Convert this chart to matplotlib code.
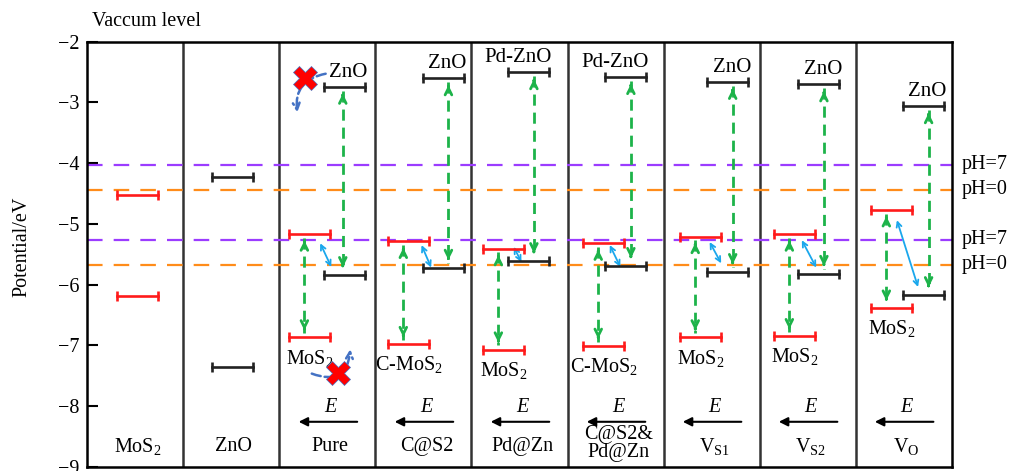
import matplotlib
matplotlib.use("Agg")
import matplotlib.pyplot as plt

plt.rcParams['font.family'] = ['Liberation Serif', 'DejaVu Serif']
plt.rcParams['mathtext.fontset'] = 'custom'
plt.rcParams['mathtext.rm'] = 'Liberation Serif'
plt.rcParams['mathtext.it'] = 'Liberation Serif:italic'

# panel names (bottom row)
panels = ['MoS$_\\mathrm{2}$', 'ZnO', 'Pure', 'C@S2', 'Pd@Zn', 'C@S2&\nPd@Zn',
          '$\\mathrm{V_{S1}}$', '$\\mathrm{V_{S2}}$', '$\\mathrm{V_{O}}$']

# pristine band edges (eV)
mos2_alone = [-4.52, -6.19]
zno_alone = [-4.23, -7.36]

# heterojunction band edges, panels Pure .. VO
mos2_cb = [-5.17, -5.29, -5.41, -5.32, -5.21, -5.17, -4.77]
mos2_vb = [-6.87, -6.98, -7.07, -7.01, -6.87, -6.85, -6.38]
zno_cb = [-2.74, -2.60, -2.50, -2.58, -2.66, -2.70, -3.06]
zno_vb = [-5.84, -5.72, -5.61, -5.69, -5.79, -5.82, -6.17]
zno_names = ['ZnO', 'ZnO', 'Pd-ZnO', 'Pd-ZnO', 'ZnO', 'ZnO', 'ZnO']
mos2_names = ['MoS$_\\mathrm{2}$', 'C-MoS$_\\mathrm{2}$', 'MoS$_\\mathrm{2}$', 'C-MoS$_\\mathrm{2}$',
              'MoS$_\\mathrm{2}$', 'MoS$_\\mathrm{2}$', 'MoS$_\\mathrm{2}$']

# interfacial transfer arrows (light blue)
tr_x0 = [2.425, 3.48, 4.44, 5.44, 6.48, 7.44, 8.43]
tr_y0 = [-5.32, -5.35, -5.38, -5.35, -5.30, -5.27, -4.94]
tr_x1 = [2.54, 3.58, 4.52, 5.55, 6.60, 7.59, 8.65]
tr_y1 = [-5.71, -5.72, -5.63, -5.71, -5.65, -5.72, -6.04]

# water redox levels
ph_levels = [-4.03, -4.44, -5.26, -5.67]
ph_labels = ['pH=7', 'pH=0', 'pH=7', 'pH=0']
ph_colors = ['#9b3cff', '#ff8c1a', '#9b3cff', '#ff8c1a']

# layout: left end of bars inside each panel
mos2_x = [0.10, 0.13, 0.12, 0.16, 0.17, 0.15, 0.16]
zno_x = [0.46, 0.49, 0.38, 0.39, 0.45, 0.40, 0.49]
bw = 0.43
fs = 14.5

red = '#ff1a1a'
blk = '#222222'
grn = '#1db34a'
blu = '#1aa7ec'

fig = plt.figure(figsize=(10.11, 4.71), dpi=100)
ax = fig.add_axes([0.0864, 0.0091, 0.8549, 0.9024])
ax.set_xlim(0, 9)
ax.set_ylim(-9, -2)


def band(x0, y, c):
    ax.plot([x0, x0 + bw], [y, y], color=c, lw=1.9, marker='|', ms=7, mew=1.9, zorder=4)


def darrow(x, y1, y2):
    # dashed double headed arrow
    s = 1 if y2 > y1 else -1
    ax.plot([x, x], [y1, y2], color=grn, lw=2, dashes=(4, 2.5), zorder=3)
    ax.annotate('', xy=(x, y2), xytext=(x, y2 - s * 0.12),
                arrowprops=dict(arrowstyle='->', color=grn, lw=2, mutation_scale=12))
    ax.annotate('', xy=(x, y1), xytext=(x, y1 + s * 0.12),
                arrowprops=dict(arrowstyle='->', color=grn, lw=2, mutation_scale=12))


for y, lab, c in zip(ph_levels, ph_labels, ph_colors):
    ax.axhline(y, color=c, lw=1.6, dashes=(7, 5), zorder=2)
    ax.text(9.1, y, lab, fontsize=fs, va='center', ha='left', clip_on=False)

for i in range(1, 9):
    ax.axvline(i, color='#333333', lw=1.8, zorder=1)

band(0.31, mos2_alone[0], red)
band(0.31, mos2_alone[1], red)
band(1.30, zno_alone[0], blk)
band(1.30, zno_alone[1], blk)

for k in range(7):
    p = k + 2
    mx = p + mos2_x[k]
    zx = p + zno_x[k]
    band(mx, mos2_cb[k], red)
    band(mx, mos2_vb[k], red)
    band(zx, zno_cb[k], blk)
    band(zx, zno_vb[k], blk)
    darrow(mx + 0.16, mos2_cb[k] - 0.06, mos2_vb[k] + 0.07)
    darrow(zx + (0.2 if k == 0 else 0.27), zno_cb[k] - 0.07, zno_vb[k] + 0.08)
    ax.annotate('', xy=(tr_x1[k], tr_y1[k]), xytext=(tr_x0[k], tr_y0[k]),
                arrowprops=dict(arrowstyle='<->', color=blu, lw=1.3, mutation_scale=9,
                                shrinkA=0, shrinkB=0))
    ax.text(zx + 0.46, zno_cb[k] + 0.24, zno_names[k], fontsize=15, ha='right', va='center')
    ax.text(mx + bw / 2, mos2_vb[k] - 0.34, mos2_names[k], fontsize=fs, ha='center', va='center')

# blocked transfer paths in the pure sample
ax.annotate('', xy=(2.19, -3.21), xytext=(2.51, -2.52),
            arrowprops=dict(arrowstyle='->', color='#4472c4', lw=1.8, ls='--',
                            connectionstyle='arc3,rad=0.5', mutation_scale=12))
ax.annotate('', xy=(2.74, -7.02), xytext=(2.31, -7.45),
            arrowprops=dict(arrowstyle='->', color='#4472c4', lw=1.8, ls='--',
                            connectionstyle='arc3,rad=0.7', mutation_scale=12))
ax.plot([2.27, 2.61], [-2.60, -7.45], ls='none', marker='X', ms=17, color='#ff0000',
        mec='#4472c4', mew=0.5, zorder=6)

# field direction and panel names
for i, name in enumerate(panels):
    if i >= 2:
        ax.annotate('', xy=(i + 0.2, -8.26), xytext=(i + 0.81, -8.26),
                    arrowprops=dict(arrowstyle='-|>', color='black', lw=1.5, mutation_scale=13,
                                    shrinkA=0, shrinkB=0))
        ax.text(i + 0.53, -8.03, 'E', style='italic', fontsize=fs, ha='center', va='center')
    yl = -8.62 if '\n' in name else -8.67
    ax.text(i + 0.5 + (0.03 if i >= 2 else 0.02), yl, name, fontsize=fs, ha='center',
            va='center', linespacing=0.9)

ax.set_xticks([])
ax.set_yticks(range(-9, -1))
ax.set_yticklabels(['\u2212%d' % abs(v) for v in range(-9, -1)], fontsize=fs)
ax.tick_params(axis='y', direction='in', length=8, width=1.5, pad=6)
for s in ax.spines.values():
    s.set_linewidth(1.8)

fig.text(0.091, 1 - 21.7 / 471, 'Vaccum level', fontsize=fs, va='center', ha='left')
fig.text(0.0215, 0.476, 'Potential/eV', fontsize=fs, va='center', ha='center', rotation=90)

fig.savefig('out.png', dpi=100)
